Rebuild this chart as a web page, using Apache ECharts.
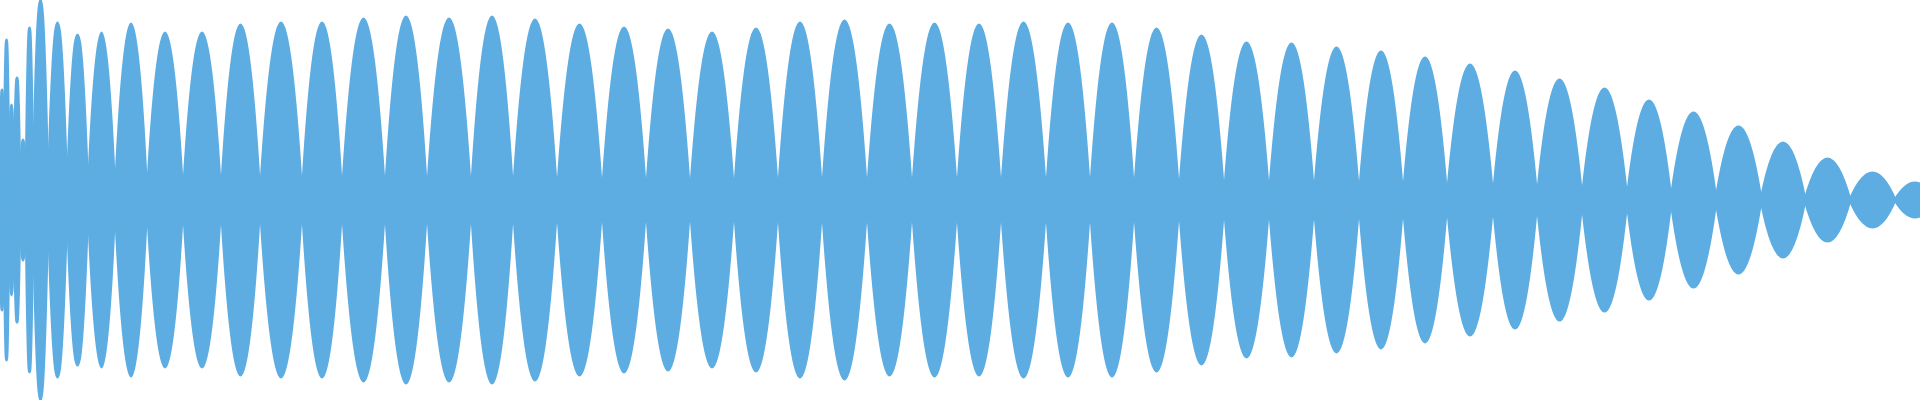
<!DOCTYPE html>
<html><head><meta charset="utf-8">
<script src="https://cdn.jsdelivr.net/npm/echarts@6/dist/echarts.min.js"></script>
<style>html,body{margin:0;padding:0;background:#fff}#c{width:1920px;height:400px}</style>
</head><body><div id="c"></div>
<script>
// zero crossings (x positions) of the waveform
const zeros = [0,4,9,14,20,26,33,48,67,88,115,147,183,221,260,302,342,385,427,471,513,557,602,646,690,734,778,822,867,912,957,1001,1046,1090,1134,1179,1224,1269,1314,1359,1403,1447,1493,1537,1582,1627,1671,1716,1761,1805,1850,1895,1935];
// peak amplitude of each lobe between consecutive zero crossings
const amps = [110,160,95,122,60,172,200,177,165,167,176,167,167,175,177,177,181,183,181,183,180,175,172,170,167,171,177,179,175,176,175,177,176,176,171,164,157,156,152,148,142,135,128,120,111,99,87,73,57,41,27,17];
const lobes = amps.map((a, i) => [zeros[i], zeros[i + 1], a]);
const chart = echarts.init(document.getElementById('c'));
chart.setOption({
  animation: false,
  grid: {left: 0, right: 0, top: 0, bottom: 0},
  xAxis: {type: 'value', min: 0, max: 1920, show: false},
  yAxis: {type: 'value', min: -200, max: 200, show: false},
  series: [{
    type: 'custom',
    data: lobes,
    renderItem: function (params, api) {
      const x0 = api.value(0), x1 = api.value(1), a = api.value(2);
      const p0 = api.coord([x0, 0]), p1 = api.coord([x1, 0]);
      const top = api.coord([(x0 + x1) / 2, a]), bot = api.coord([(x0 + x1) / 2, -a]);
      const h = (p1[0] - p0[0]) / 2, m = top[0], c = p0[1];
      const k1 = 0.28, k2 = 0.37, ky = 0.55;
      const dt = top[1] - c, db = bot[1] - c;
      const d = ['M', p0[0], c,
        'C', p0[0] + k1 * h, c + ky * dt, m - k2 * h, top[1], m, top[1],
        'C', m + k2 * h, top[1], p1[0] - k1 * h, c + ky * dt, p1[0], c,
        'C', p1[0] - k1 * h, c + ky * db, m + k2 * h, bot[1], m, bot[1],
        'C', m - k2 * h, bot[1], p0[0] + k1 * h, c + ky * db, p0[0], c, 'Z'
      ].join(' ');
      return {
        type: 'path',
        shape: {pathData: d},
        style: {fill: '#5dade2', stroke: '#5dade2', lineWidth: 3}
      };
    }
  }]
});
</script></body></html>
